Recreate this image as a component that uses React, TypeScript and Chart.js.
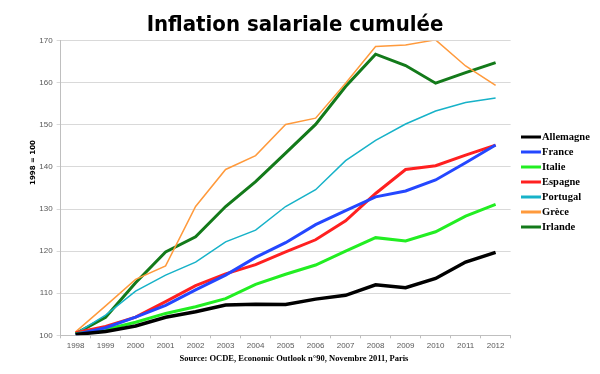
import React, { useEffect, useRef } from "react";
import { Chart, registerables } from "chart.js";

Chart.register(...registerables);

const years = ["1998", "1999", "2000", "2001", "2002", "2003", "2004", "2005", "2006", "2007", "2008", "2009", "2010", "2011", "2012"];

const allemagne = [100.2, 100.9, 102.2, 104.3, 105.6, 107.2, 107.4, 107.3, 108.6, 109.5, 112.0, 111.3, 113.5, 117.4, 119.7];
const france = [100.2, 101.8, 104.3, 107.1, 110.8, 114.3, 118.5, 122.0, 126.3, 129.6, 132.9, 134.3, 136.9, 141.0, 145.2];
const italie = [100.4, 101.4, 103.1, 105.2, 106.8, 108.7, 112.1, 114.5, 116.7, 120.0, 123.2, 122.4, 124.6, 128.3, 131.1];
const espagne = [100.6, 102.1, 104.3, 108.0, 111.8, 114.6, 116.8, 119.8, 122.7, 127.2, 133.7, 139.4, 140.3, 142.8, 145.2];
const portugal = [100.4, 104.8, 110.5, 114.3, 117.4, 122.2, 125.0, 130.6, 134.6, 141.5, 146.3, 150.2, 153.3, 155.3, 156.4];
const grece = [100.8, 107.0, 113.3, 116.5, 130.6, 139.4, 142.7, 150.1, 151.6, 159.9, 168.6, 169.0, 170.2, 164.0, 159.4];
const irlande = [100.4, 104.3, 112.5, 119.8, 123.4, 130.6, 136.5, 143.3, 150.1, 159.1, 166.8, 164.1, 159.9, 162.4, 164.8];

const yTicksMin = 100;
const yTicksMax = 170;
const yStep = 10;

const chartTitle = "Inflation salariale cumulée";
const yAxisTitle = "1998 = 100";
const sourceText = "Source: OCDE, Economic Outlook n°90, Novembre 2011, Paris";

const seriesNames = ["Allemagne", "France", "Italie", "Espagne", "Portugal", "Grèce", "Irlande"];
const seriesValues = [allemagne, france, italie, espagne, portugal, grece, irlande];
const seriesColors = ["#000000", "#2447ff", "#22ee22", "#ff2020", "#17b2c8", "#ff9a3c", "#137a1a"];
const seriesWidths = [3.5, 3, 3, 3, 1.5, 1.5, 3];

const overlayPlugin = {
  id: "overlayText",
  afterDraw(chart: any) {
    const ctx = chart.ctx;
    ctx.save();
    // title
    ctx.fillStyle = "#000";
    ctx.font = "bold 22px 'DejaVu Sans Condensed', 'DejaVu Sans'";
    ctx.textAlign = "center";
    ctx.textBaseline = "alphabetic";
    ctx.fillText(chartTitle, 295, 31);
    // source
    ctx.font = "bold 8.5px 'Liberation Serif'";
    ctx.fillText(sourceText, 294, 361);
    // y axis title
    ctx.save();
    ctx.translate(35, 162.5);
    ctx.rotate(-Math.PI / 2);
    ctx.font = "bold 7px 'DejaVu Sans'";
    ctx.textAlign = "center";
    ctx.fillText(yAxisTitle, 0, 0);
    ctx.restore();
    // legend
    const ds = chart.data.datasets;
    ctx.textAlign = "left";
    ctx.textBaseline = "middle";
    ctx.font = "bold 10.5px 'Liberation Serif'";
    ds.forEach((d: any, i: number) => {
      const y = 137 + i * 15;
      ctx.strokeStyle = d.borderColor;
      ctx.lineWidth = 3;
      ctx.beginPath();
      ctx.moveTo(521, y);
      ctx.lineTo(541, y);
      ctx.stroke();
      ctx.fillStyle = "#000";
      ctx.fillText(d.label, 542, y);
    });
    ctx.restore();
  },
};

export default function App() {
  const ref = useRef<HTMLCanvasElement>(null);
  useEffect(() => {
    document.body.style.margin = "0";
    const chart = new Chart(ref.current!, {
      type: "line",
      data: {
        labels: years,
        datasets: seriesNames.map((name, i) => ({
          label: name,
          data: seriesValues[i],
          borderColor: seriesColors[i],
          backgroundColor: seriesColors[i],
          borderWidth: seriesWidths[i],
          pointRadius: 0,
          tension: 0,
          fill: false,
        })),
      },
      options: {
        animation: false,
        responsive: true,
        maintainAspectRatio: false,
        layout: { padding: { left: 0, top: 40.7, right: 89.4, bottom: 0 } },
        plugins: {
          legend: { display: false },
          title: { display: false },
          tooltip: { enabled: false },
        },
        scales: {
          x: {
            type: "category",
            offset: true,
            grid: { display: true, drawOnChartArea: false, drawTicks: true, tickLength: 3, color: "#bfbfbf", offset: true },
            border: { color: "#bfbfbf" },
            ticks: { color: "#595959", font: { family: "'Liberation Sans'", size: 8 }, padding: 3, maxRotation: 0, autoSkip: false },
            afterFit: (s: any) => { s.height = 374 - 335.3; },
          },
          y: {
            min: yTicksMin,
            max: yTicksMax,
            ticks: { stepSize: yStep, color: "#595959", font: { family: "'Liberation Sans'", size: 8 }, padding: 4 },
            grid: { color: "#d9d9d9", tickLength: 4 },
            border: { color: "#bfbfbf" },
            afterFit: (s: any) => { s.width = 60.6; },
          },
        },
      },
      plugins: [overlayPlugin],
    });
    return () => chart.destroy();
  }, []);
  return (
    <div style={{ width: 600, height: 374, position: "relative" }}>
      <canvas ref={ref} />
    </div>
  );
}
